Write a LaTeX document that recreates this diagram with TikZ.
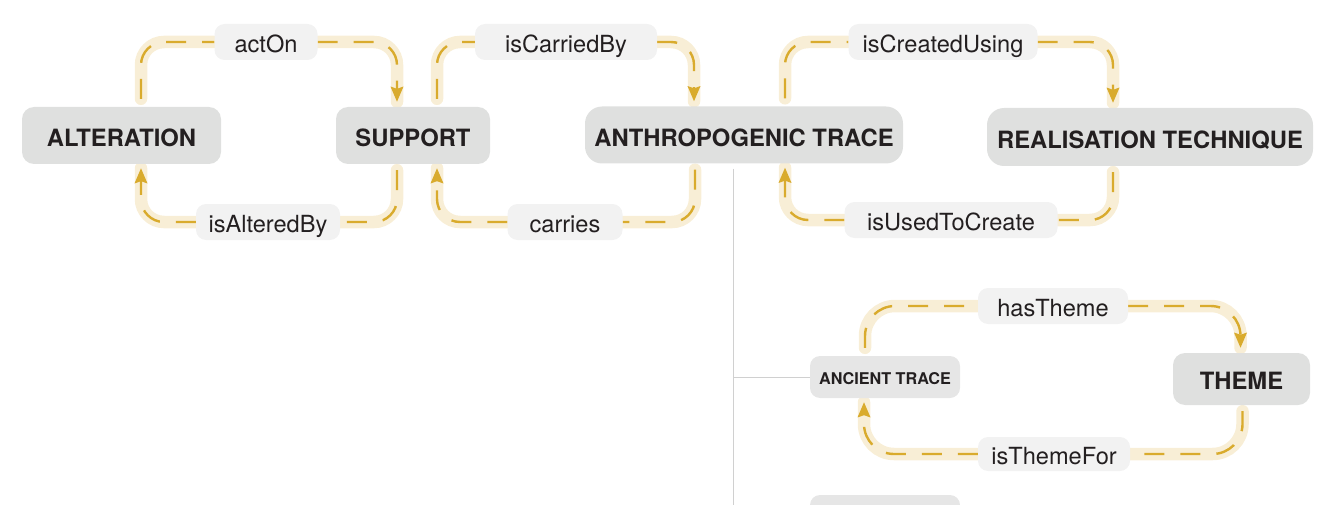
\documentclass[tikz,border=0pt]{standalone}
\usepackage{fontspec}
\setmainfont{TeX Gyre Heros}
\usetikzlibrary{arrows.meta,backgrounds,calc}
\definecolor{nodefill}{HTML}{DFE0DF}
\definecolor{smallfill}{HTML}{E6E6E6}
\definecolor{labfill}{HTML}{F2F2F2}
\definecolor{txt}{HTML}{231F20}
\definecolor{halo}{HTML}{F8EED6}
\definecolor{gold}{HTML}{D9AB2D}
\definecolor{treegray}{HTML}{D0D0D0}
\begin{document}
\begin{tikzpicture}[x=1pt,y=-1pt,
  box/.style={rounded corners=12pt, fill=nodefill, text=txt, inner sep=0pt,
    font=\fontsize{23.8}{26}\selectfont\bfseries, minimum height=57pt,
    text height=23pt, text depth=0pt},
  smallbox/.style={rounded corners=10pt, fill=smallfill, text=txt, inner sep=0pt,
    font=\fontsize{16.2}{18}\selectfont\bfseries, minimum height=42pt, minimum width=150pt,
    text height=15.5pt, text depth=0pt},
  lab/.style={rounded corners=10pt, fill=labfill, text=txt, inner sep=0pt,
    font=\fontsize{23.6}{26}\selectfont, minimum height=36pt,
    text height=21pt, text depth=0pt},
  conn/.style={draw=gold, line width=2.4pt, dash pattern=on 20pt off 16pt,
    rounded corners=#1,
    -{Stealth[length=15pt,width=12.5pt,inset=2pt]},
    preaction={draw=halo, line width=12.5pt, line cap=round, solid, -}},
  conn/.default=23pt,
  treeline/.style={draw=treegray, line width=1pt}]
\useasboundingbox (0,0) rectangle (1321,505);
\clip (0,0) rectangle (1321,505);

% main nodes
\node[box, minimum width=199pt] (alt) at (121.5,135.5) {ALTERATION};
\node[box, minimum width=154pt] (sup) at (413,135.5) {SUPPORT};
\node[box, minimum width=318pt, rounded corners=17pt] (anth) at (744,135) {ANTHROPOGENIC TRACE};
\node[box, minimum width=326pt, minimum height=58pt, rounded corners=17pt] (real) at (1150,137) {REALISATION TECHNIQUE};
\node[smallbox] (anc) at (885,377) {ANCIENT TRACE};
\node[box, minimum width=137pt, minimum height=52pt, text height=21pt] (theme) at (1241.5,379) {THEME};
\node[smallbox, minimum height=44pt] (next) at (885,517) {};

% edge labels
\node[lab, minimum width=103pt] (l1) at (266,42) {actOn};
\node[lab, minimum width=144pt] (l2) at (268,222) {isAlteredBy};
\node[lab, minimum width=182pt] (l3) at (566,42) {isCarriedBy};
\node[lab, minimum width=115pt] (l4) at (565,222) {carries};
\node[lab, minimum width=189pt] (l5) at (943,42) {isCreatedUsing};
\node[lab, minimum width=213pt] (l6) at (951,220) {isUsedToCreate};
\node[lab, minimum width=150pt] (l7) at (1053,306) {hasTheme};
\node[lab, minimum width=152pt, minimum height=34pt] (l8) at (1054,454) {isThemeFor};

\begin{scope}[on background layer]
  % tree lines
  \draw[treeline] ([xshift=-11pt,yshift=-5pt]anth.south) coordinate (tr) -- (tr |- next.south);
  \draw[treeline] (tr |- anc.west) -- (anc.west);
  % connectors
  \draw[conn] ([xshift=19.5pt,yshift=8pt]alt.north) |- (l1) -| ([xshift=-16pt,yshift=5pt]sup.north);
  \draw[conn] ([xshift=-16pt,yshift=-6pt]sup.south) |- (l2) -| ([xshift=19.5pt,yshift=-4pt]alt.south);
  \draw[conn] ([xshift=24pt,yshift=8pt]sup.north) |- (l3) -| ([xshift=-50pt,yshift=5pt]anth.north);
  \draw[conn] ([xshift=-49pt,yshift=-6pt]anth.south) |- (l4) -| ([xshift=24pt,yshift=-4pt]sup.south);
  \draw[conn] ([xshift=41pt,yshift=8pt]anth.north) |- (l5) -| ([xshift=-37pt,yshift=5pt]real.north);
  \draw[conn] ([xshift=-37pt,yshift=-6pt]real.south) |- (l6) -| ([xshift=41pt,yshift=-4pt]anth.south);
  \draw[conn=30pt] ([xshift=-20pt,yshift=8pt]anc.north) |- (l7) -| ([xshift=-1pt,yshift=5pt]theme.north);
  \draw[conn=30pt] ([xshift=1pt,yshift=-6pt]theme.south) |- (l8) -| ([xshift=-21pt,yshift=-4pt]anc.south);
\end{scope}
\end{tikzpicture}
\end{document}
